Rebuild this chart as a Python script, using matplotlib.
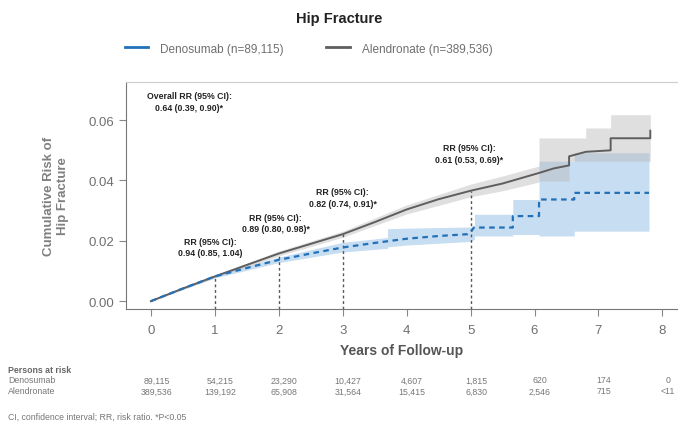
import matplotlib
matplotlib.use('Agg')
import matplotlib.pyplot as plt
from matplotlib.lines import Line2D

plt.rcParams['font.family'] = ['Liberation Sans', 'DejaVu Sans']

# Cumulative risk curves
deno_t = [0, 0.5, 1, 1.5, 2, 2.5, 3, 3.5, 4, 4.5, 4.95, 5.0, 5.05, 5.66, 5.66, 6.07, 6.07, 6.62, 6.62, 7.79]
deno_y = [0, 0.0042, 0.0082, 0.0110, 0.0137, 0.0158, 0.0178, 0.0193, 0.0207, 0.0216, 0.0222, 0.0228, 0.0244,
          0.0244, 0.0282, 0.0282, 0.0337, 0.0337, 0.0359, 0.0359]
alen_t = [0, 0.5, 1, 1.5, 2, 2.5, 3, 3.5, 4, 4.5, 5, 5.5, 6.07, 6.3, 6.54, 6.54, 6.8, 7.19, 7.19, 7.81, 7.81]
alen_y = [0, 0.0042, 0.0082, 0.0120, 0.0158, 0.0190, 0.0222, 0.0262, 0.0304, 0.0338, 0.0366, 0.0390, 0.0425,
          0.0440, 0.0450, 0.0480, 0.0495, 0.0500, 0.0540, 0.0540, 0.0565]

# 95% CI bands
deno_ci_t = [0, 1, 2, 3, 3.7, 3.7, 4, 5, 5.06, 5.06, 5.66, 5.66, 6.07, 6.07, 6.62, 6.62, 7.79]
deno_lo = [0, 0.0077, 0.0128, 0.0163, 0.0175, 0.0180, 0.0186, 0.0198, 0.0205, 0.0216, 0.0216, 0.0221, 0.0221,
           0.0216, 0.0216, 0.0232, 0.0232]
deno_hi = [0, 0.0087, 0.0146, 0.0195, 0.0211, 0.0240, 0.0242, 0.0246, 0.0246, 0.0288, 0.0288, 0.0337, 0.0337,
           0.0464, 0.0464, 0.0492, 0.0492]
alen_ci_t = [0, 1, 2, 3, 4, 5, 5.5, 6.07, 6.07, 6.54, 6.54, 6.8, 6.8, 7.19, 7.19, 7.81]
alen_lo = [0, 0.0078, 0.0150, 0.0212, 0.0289, 0.0346, 0.0366, 0.0395, 0.0398, 0.0398, 0.0464, 0.0464, 0.0464,
           0.0464, 0.0464, 0.0464]
alen_hi = [0, 0.0086, 0.0166, 0.0232, 0.0319, 0.0388, 0.0415, 0.0448, 0.0541, 0.0541, 0.0541, 0.0541, 0.0574,
           0.0574, 0.0618, 0.0618]

# RR annotations
rr_years = [1, 2, 3, 5]
rr_labels = ['RR (95% CI):\n0.94 (0.85, 1.04)',
             'RR (95% CI):\n0.89 (0.80, 0.98)*',
             'RR (95% CI):\n0.82 (0.74, 0.91)*',
             'RR (95% CI):\n0.61 (0.53, 0.69)*']
rr_text_x = [0.93, 1.95, 3.0, 4.98]
rr_text_y = [0.0145, 0.0225, 0.031, 0.0455]
rr_line_top = [0.0082, 0.0158, 0.0222, 0.0366]

# risk table
risk_years = [0, 1, 2, 3, 4, 5, 6, 7, 8]
deno_risk = ['89,115', '54,215', '23,290', '10,427', '4,607', '1,815', '620', '174', '0']
alen_risk = ['389,536', '139,192', '65,908', '31,564', '15,415', '6,830', '2,546', '715', '<11']

blue = '#2270b8'
gray_line = '#5e5e5e'
txt_gray = '#6f6f6f'

fig = plt.figure(figsize=(6.78, 4.27), dpi=100)
ax = fig.add_axes([0.1858, 0.274, 0.812, 0.532])

ax.fill_between(deno_ci_t, deno_lo, deno_hi, color='#a9cbeb', alpha=0.65, linewidth=0)
ax.fill_between(alen_ci_t, alen_lo, alen_hi, color='#b8b8b8', alpha=0.45, linewidth=0)

for yr, top in zip(rr_years, rr_line_top):
    ax.plot([yr, yr], [-0.0026, top], color='#555555', linestyle=(0, (2, 2)), linewidth=1)

ax.plot(alen_t, alen_y, color=gray_line, linewidth=1.4)
ax.plot(deno_t, deno_y, color=blue, linewidth=1.6, linestyle=(0, (2.5, 2)))

for x, y, s in zip(rr_text_x, rr_text_y, rr_labels):
    ax.text(x, y, s, ha='center', va='bottom', fontsize=6.3, fontweight='bold', color='#222222', linespacing=1.35)
ax.text(0.6, 0.0628, 'Overall RR (95% CI):\n0.64 (0.39, 0.90)*', ha='center', va='bottom', fontsize=6.3,
        fontweight='bold', color='#222222', linespacing=1.35)

ax.set_xlim(-0.39, 8.22)
ax.set_ylim(-0.0026, 0.0727)
ax.set_xticks(range(0, 9))
ax.set_yticks([0.0, 0.02, 0.04, 0.06])
ax.set_yticklabels(['0.00', '0.02', '0.04', '0.06'])
ax.tick_params(colors='#888888', labelcolor=txt_gray, labelsize=9.5, length=5)
ax.tick_params(axis='x', pad=6)
for side in ['left', 'bottom']:
    ax.spines[side].set_color('#777777')
ax.spines['top'].set_color('#cccccc')
ax.spines['right'].set_visible(False)

ax.set_xlabel('Years of Follow-up', fontsize=10, fontweight='bold', color='#555555', labelpad=5)
ax.set_ylabel('Cumulative Risk of\nHip Fracture', fontsize=9.5, fontweight='bold', color='#808080', labelpad=14)

fig.text(0.5, 0.956, 'Hip Fracture', ha='center', va='center', fontsize=10.5, fontweight='bold', color='#222222')
handles = [Line2D([], [], color=blue, linewidth=2), Line2D([], [], color=gray_line, linewidth=2)]
leg = fig.legend(handles, ['Denosumab (n=89,115)', 'Alendronate (n=389,536)'], loc='center',
                 bbox_to_anchor=(0.455, 0.884), ncol=2, frameon=False, fontsize=8.5,
                 handlelength=2.0, columnspacing=3.6, handletextpad=1.0)
for t in leg.get_texts():
    t.set_color(txt_gray)

# risk table below the axis
fig.text(0.012, 0.133, 'Persons at risk', fontsize=6.3, fontweight='bold', color='#666666', va='center')
fig.text(0.012, 0.108, 'Denosumab', fontsize=6.3, color='#777777', va='center')
fig.text(0.012, 0.082, 'Alendronate', fontsize=6.3, color='#777777', va='center')
for yr, d, a in zip(risk_years, deno_risk, alen_risk):
    xf = ax.transData.transform((yr, 0))[0] / fig.bbox.width
    fig.text(xf + 0.008, 0.108, d, fontsize=6.3, color='#777777', ha='center', va='center')
    fig.text(xf + 0.008, 0.082, a, fontsize=6.3, color='#777777', ha='center', va='center')

fig.text(0.012, 0.023, 'CI, confidence interval; RR, risk ratio. *P<0.05', fontsize=6.3, color='#777777', va='center')

fig.savefig('out.png', dpi=100)
